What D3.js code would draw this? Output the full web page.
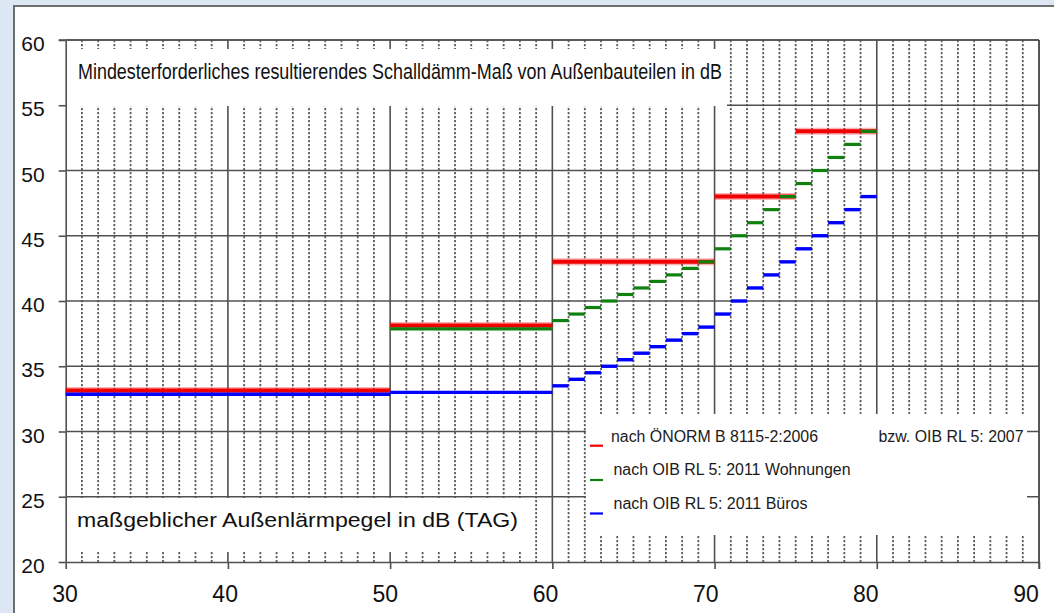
<!DOCTYPE html>
<html><head><meta charset="utf-8">
<script src="https://cdn.jsdelivr.net/npm/d3@7"></script>
<style>html,body{margin:0;padding:0;background:#dce7f3;}svg{display:block;}</style>
</head><body>
<svg id="c" width="1054" height="613"></svg>
<script>
// ---- data ----
const xTicks = [30, 40, 50, 60, 70, 80, 90];
const yTicks = [20, 25, 30, 35, 40, 45, 50, 55, 60];

// ÖNORM B 8115-2:2006 (red)
const redFrom = [30, 50, 60, 70, 75];
const redTo   = [50, 60, 70, 75, 80];
const redVal  = [33.15, 38.12, 43, 48, 53];

// OIB RL 5: 2011 Wohnungen (green)
const greenFrom = [50, 60, 61, 62, 63, 64, 65, 66, 67, 68, 69, 70, 71, 72, 73, 74, 75, 76, 77, 78, 79];
const greenTo   = [60, 61, 62, 63, 64, 65, 66, 67, 68, 69, 70, 71, 72, 73, 74, 75, 76, 77, 78, 79, 80];
const greenVal  = [37.87, 38.5, 39, 39.5, 40, 40.5, 41, 41.5, 42, 42.5, 43, 44, 45, 46, 47, 48, 49, 50, 51, 52, 53];

// OIB RL 5: 2011 Büros (blue)
const blueFrom = [30, 50, 60, 61, 62, 63, 64, 65, 66, 67, 68, 69, 70, 71, 72, 73, 74, 75, 76, 77, 78, 79];
const blueTo   = [50, 60, 61, 62, 63, 64, 65, 66, 67, 68, 69, 70, 71, 72, 73, 74, 75, 76, 77, 78, 79, 80];
const blueVal  = [32.85, 33, 33.5, 34, 34.5, 35, 35.5, 36, 36.5, 37, 37.5, 38, 39, 40, 41, 42, 43, 44, 45, 46, 47, 48];

const titleText = "Mindesterforderliches resultierendes Schalldämm-Maß von Außenbauteilen in dB";
const xLabelText = "maßgeblicher Außenlärmpegel in dB (TAG)";
const legendLabels = ["nach ÖNORM B 8115-2:2006", "nach OIB RL 5: 2011 Wohnungen", "nach OIB RL 5: 2011 Büros"];
const legendExtra = "bzw. OIB RL 5: 2007";
const legendColors = ["#f00000", "#108010", "#0000ff"];

// ---- drawing ----
const svg = d3.select("#c");
const FONT = "'Liberation Sans', Arial, sans-serif";
const x = d3.scaleLinear().domain([30, 90]).range([65.7, 1039]);
const y = d3.scaleLinear().domain([20, 60]).range([562, 40]);
const xLab = d3.scaleLinear().domain([30, 90]).range([64.5, 1025.5]);

svg.append("rect").attr("width", 1054).attr("height", 613).attr("fill", "#dce7f3");
svg.append("rect").attr("x", 14).attr("y", 6).attr("width", 1080).attr("height", 640)
  .attr("fill", "#fff").attr("stroke", "#6e6e6e").attr("stroke-width", 2);

const grid = svg.append("g");
const minor = d3.range(31, 90).filter(v => v % 10 !== 0);
grid.selectAll("line.minor").data(minor).join("line")
  .attr("x1", d => x(d)).attr("x2", d => x(d))
  .attr("y1", y(60)).attr("y2", y(20))
  .attr("stroke", "#5e5e5e").attr("stroke-width", 1.8).attr("stroke-dasharray", "2.2,1.8");
grid.selectAll("line.hmaj").data(yTicks.filter(v => v > 20)).join("line")
  .attr("x1", x(30)).attr("x2", x(90))
  .attr("y1", d => y(d)).attr("y2", d => y(d))
  .attr("stroke", "#505050").attr("stroke-width", 1.6);
grid.selectAll("line.vmaj").data(xTicks.filter(v => v > 30)).join("line")
  .attr("x1", d => x(d)).attr("x2", d => x(d))
  .attr("y1", y(60)).attr("y2", y(20))
  .attr("stroke", "#505050").attr("stroke-width", 1.6);

// white boxes over the grid
svg.append("rect").attr("x", 66.5).attr("y", 49).attr("width", 660.5).attr("height", 57).attr("fill", "#fff");
svg.append("rect").attr("x", 66.5).attr("y", 498).attr("width", 460).attr("height", 54).attr("fill", "#fff");
svg.append("rect").attr("x", 586).attr("y", 414).attr("width", 441).attr("height", 121).attr("fill", "#fff");

// axes
const yAxis = svg.append("g").attr("transform", `translate(${x(30)},0)`)
  .call(d3.axisLeft(y).tickValues(yTicks).tickSize(7).tickPadding(14).tickSizeOuter(0));
yAxis.selectAll("text").attr("font-size", 21).attr("font-family", FONT).attr("fill", "#111").attr("dy", "0.78em")
  .attr("transform", "translate(0,-5.8)");
const xAxis = svg.append("g").attr("transform", `translate(0,${y(20)})`)
  .call(d3.axisBottom(x).tickValues(xTicks).tickSize(7).tickPadding(17).tickSizeOuter(0));
xAxis.selectAll("text").attr("font-size", 23).attr("font-family", FONT).attr("fill", "#111")
  .attr("dx", d => xLab(d) - x(d));
[yAxis, xAxis].forEach(a => {
  a.selectAll("path.domain").attr("stroke", "#505050").attr("stroke-width", 1.6);
  a.selectAll(".tick line").attr("stroke", "#505050").attr("stroke-width", 1.6);
});
// right and top frame lines
svg.append("line").attr("x1", x(90)).attr("x2", x(90)).attr("y1", y(60)).attr("y2", y(20) + 7)
  .attr("stroke", "#505050").attr("stroke-width", 1.6);
svg.append("line").attr("x1", x(30) - 7).attr("x2", x(90)).attr("y1", y(60)).attr("y2", y(60))
  .attr("stroke", "#505050").attr("stroke-width", 1.6);

// data series
function series(from, to, val, color, w, halo) {
  const g = svg.append("g");
  const idx = d3.range(from.length);
  if (halo) {
    g.selectAll("line.h").data(idx).join("line")
      .attr("x1", i => x(from[i])).attr("x2", i => x(to[i]))
      .attr("y1", i => y(val[i])).attr("y2", i => y(val[i]))
      .attr("stroke", color).attr("stroke-opacity", 0.3).attr("stroke-width", w + 3);
  }
  g.selectAll("line.s").data(idx).join("line")
    .attr("x1", i => x(from[i])).attr("x2", i => x(to[i]))
    .attr("y1", i => y(val[i])).attr("y2", i => y(val[i]))
    .attr("stroke", color).attr("stroke-width", w);
}
series(redFrom, redTo, redVal, legendColors[0], 4, true);
series(greenFrom, greenTo, greenVal, legendColors[1], 3.2, false);
series(blueFrom, blueTo, blueVal, legendColors[2], 3.4, false);

// texts
svg.append("text").attr("x", 78).attr("y", 78.5).attr("font-family", FONT).attr("font-size", 21.5)
  .attr("textLength", 644).attr("lengthAdjust", "spacingAndGlyphs").attr("fill", "#111").text(titleText);
svg.append("text").attr("x", 77).attr("y", 527).attr("font-family", FONT).attr("font-size", 20.5)
  .attr("textLength", 441).attr("lengthAdjust", "spacingAndGlyphs").attr("fill", "#111").text(xLabelText);

// legend
const legY = [442, 475, 508.5];
const legMarkY = [445.7, 480, 513.5];
const legX = [611, 613.5, 613.5];
const legW = [207, 237, 194];
const lg = svg.append("g");
lg.selectAll("line").data(legendColors).join("line")
  .attr("x1", 590).attr("x2", 603)
  .attr("y1", (d, i) => legMarkY[i]).attr("y2", (d, i) => legMarkY[i])
  .attr("stroke", d => d).attr("stroke-width", 2.2);
lg.selectAll("text").data(legendLabels).join("text")
  .attr("x", (d, i) => legX[i]).attr("y", (d, i) => legY[i])
  .attr("font-family", FONT).attr("font-size", 16).attr("fill", "#1a1a1a")
  .attr("textLength", (d, i) => legW[i]).attr("lengthAdjust", "spacingAndGlyphs").text(d => d);
svg.append("text").attr("x", 878.5).attr("y", 442).attr("font-family", FONT).attr("font-size", 16)
  .attr("fill", "#1a1a1a").attr("textLength", 145).attr("lengthAdjust", "spacingAndGlyphs").text(legendExtra);
</script>
</body></html>
